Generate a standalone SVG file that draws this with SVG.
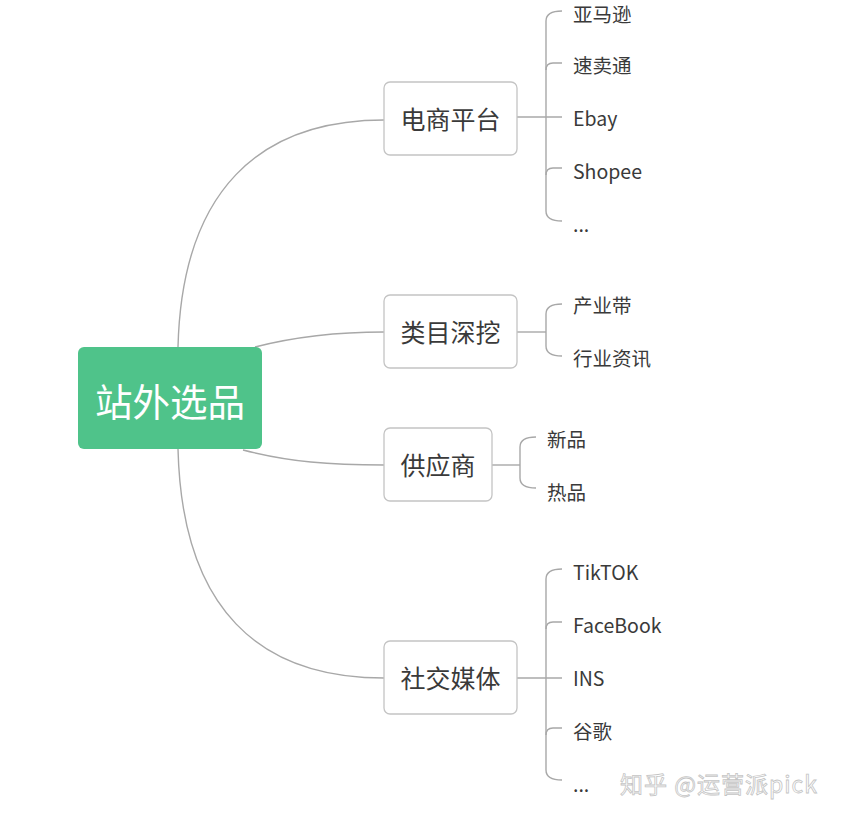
<svg xmlns="http://www.w3.org/2000/svg" width="850" height="823" viewBox="0 0 850 823">
<style>
.bg{fill:#ffffff}
.node rect{fill:#ffffff;stroke:#c4c4c4;stroke-width:1.3}
.node text{font-family:"Noto Sans CJK SC","Noto Sans",sans-serif;font-size:25px;fill:#3a3a3a;text-anchor:middle;dominant-baseline:central}
.leaf{font-family:"Noto Sans CJK SC","Noto Sans",sans-serif;font-size:19.5px;fill:#3a3a3a;dominant-baseline:central}
.conn path{fill:none;stroke:#a8a8a8;stroke-width:1.4}
.wm{font-family:"Noto Sans CJK SC",sans-serif;font-size:23px;letter-spacing:1px;fill:#ffffff;stroke:#c4c4c4;stroke-width:0.8}
</style>
<rect class="bg" x="0" y="0" width="850" height="823"/>
<g id="connectors" class="conn">
<path d="M178,347 C182,190 260,120 384,120"/>
<path d="M255,347 C290,338 330,332 384,332"/>
<path d="M243,450 C290,462 330,465 384,465"/>
<path d="M178,449 C182,610 260,678 384,678"/>
<path d="M517,117 L562,117"/>
<path d="M562,11 Q546,11 546,21 L546,211 Q546,221 562,221"/>
<path d="M546,70 Q546,63 553,63 L562,63"/>
<path d="M546,175 Q546,168 553,168 L562,168"/>
<path d="M517,332 L546,332"/>
<path d="M562,304 Q546,304 546,314 L546,346 Q546,356 562,356"/>
<path d="M492,465 L520,465"/>
<path d="M536,437 Q520,437 520,447 L520,478 Q520,488 536,488"/>
<path d="M517,678 L562,678"/>
<path d="M562,569 Q546,569 546,579 L546,770 Q546,780 562,780"/>
<path d="M546,629 Q546,622 553,622 L562,622"/>
<path d="M546,735 Q546,728 553,728 L562,728"/>
</g>
<g id="root">
<rect x="78" y="347" width="184" height="102" rx="6" fill="#4fc38a"/>
<text x="170" y="399" font-family="Noto Sans CJK SC,sans-serif" font-size="37.5" fill="#ffffff" text-anchor="middle" dominant-baseline="central">站外选品</text>
</g>
<g id="n-ecommerce" class="node"><rect x="384" y="82" width="133" height="73" rx="6"/><text x="450.5" y="118">电商平台</text></g>
<g id="n-category" class="node"><rect x="384" y="295" width="133" height="73" rx="6"/><text x="450.5" y="331">类目深挖</text></g>
<g id="n-supplier" class="node"><rect x="384" y="428" width="108" height="73" rx="6"/><text x="438" y="464">供应商</text></g>
<g id="n-social" class="node"><rect x="384" y="641" width="133" height="73" rx="6"/><text x="450.5" y="677">社交媒体</text></g>
<g id="leaves">
<text class="leaf" x="573" y="13">亚马逊</text>
<text class="leaf" x="573" y="64">速卖通</text>
<text class="leaf" x="573" y="117">Ebay</text>
<text class="leaf" x="573" y="170">Shopee</text>
<text class="leaf" x="573" y="223">...</text>
<text class="leaf" x="573" y="304">产业带</text>
<text class="leaf" x="573" y="357">行业资讯</text>
<text class="leaf" x="547" y="438">新品</text>
<text class="leaf" x="547" y="491">热品</text>
<text class="leaf" x="573" y="571">TikTOK</text>
<text class="leaf" x="573" y="624">FaceBook</text>
<text class="leaf" x="573" y="677">INS</text>
<text class="leaf" x="573" y="730">谷歌</text>
<text class="leaf" x="573" y="783">...</text>
</g>
<text class="wm" x="620" y="793">知乎 @运营派pick</text>
</svg>
